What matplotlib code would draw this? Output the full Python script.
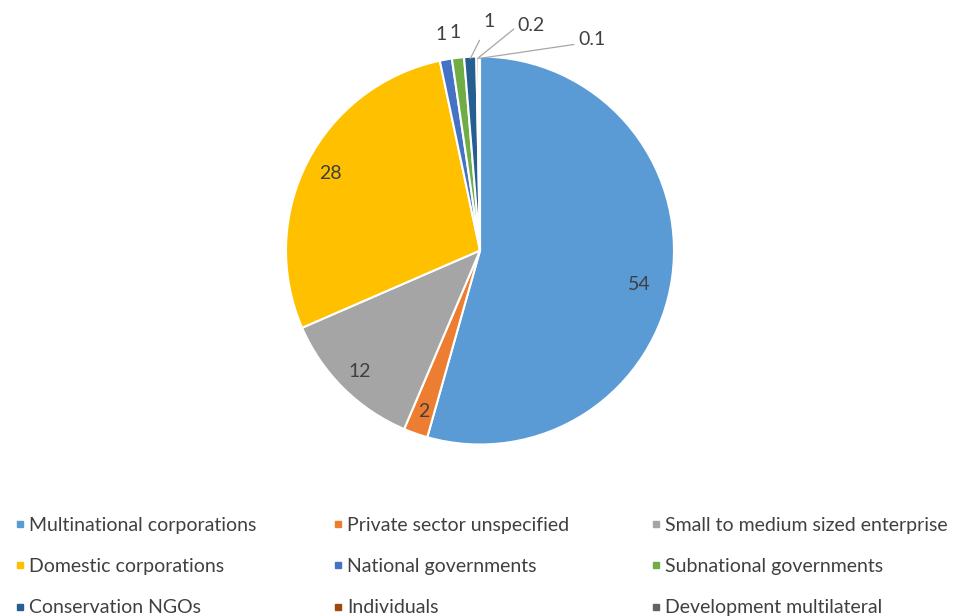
import numpy as np
import matplotlib.pyplot as plt
from matplotlib.lines import Line2D

# funding share by source type
categories = ['Multinational corporations', 'Private sector unspecified',
              'Small to medium sized enterprise', 'Domestic corporations',
              'National governments', 'Subnational governments',
              'Conservation NGOs', 'Individuals', 'Development multilateral']
values = [54, 2, 12, 28, 1, 1, 1, 0.2, 0.1]
value_labels = ['54', '2', '12', '28', '1', '1', '1', '0.2', '0.1']
colors = ['#5B9BD5', '#ED7D31', '#A5A5A5', '#FFC000', '#4472C4',
          '#70AD47', '#255E91', '#9E480E', '#636363']

plt.rcParams['font.family'] = ['Lato', 'DejaVu Sans']
txt_color = '#404040'

W, H = 959, 616
fig = plt.figure(figsize=(W / 100, H / 100), dpi=100)

# pie axes: centre (480, 250) px, radius 194 px
cx, cy, r = 480, 250.5, 194
ax = fig.add_axes([(cx - r) / W, (H - cy - r) / H, 2 * r / W, 2 * r / H])
wedges, _ = ax.pie(values, colors=colors, startangle=90, counterclock=False,
                   wedgeprops=dict(edgecolor='white', linewidth=1.5))
ax.set_xlim(-1, 1)
ax.set_ylim(-1, 1)

# inner labels for the large slices, outer ones for the thin slivers
inner_dist = [0.84, 0.88, 0.88, 0.87]
inner_shift = [-4, 0, 0, 0]   # degrees
outer_pos = {6: (0.046, 1.18), 7: (0.195, 1.16), 8: (0.505, 1.09)}
for i, w in enumerate(wedges):
    mid = np.deg2rad((w.theta1 + w.theta2) / 2)
    if i < 4:
        d = inner_dist[i]
        a = mid + np.deg2rad(inner_shift[i])
        ax.text(d * np.cos(a), d * np.sin(a), value_labels[i],
                ha='center', va='center', fontsize=14, color=txt_color)
    elif i in outer_pos:
        ex, ey = 0.99 * np.cos(mid), 0.99 * np.sin(mid)
        tx, ty = outer_pos[i]
        if i == 6:
            ax.annotate(value_labels[i], xy=(ex, ey), xytext=(tx, ty),
                        ha='center', va='center', fontsize=14, color=txt_color,
                        annotation_clip=False,
                        arrowprops=dict(arrowstyle='-', color='#A6A6A6', lw=0.9,
                                        shrinkA=6, shrinkB=0,
                                        relpos=(0.5, 0.5)))
        else:
            # leader: diagonal from the sliver, short horizontal into the text
            ly = ty - 0.03
            bend = np.degrees(np.arctan2(ly - ey, tx - 0.035 - ex))
            ax.annotate(value_labels[i], xy=(ex, ey), xytext=(tx, ty),
                        ha='left', va='center', fontsize=14, color=txt_color,
                        annotation_clip=False,
                        arrowprops=dict(arrowstyle='-', color='#A6A6A6', lw=0.9,
                                        shrinkA=1, shrinkB=0, relpos=(0, 0.3),
                                        connectionstyle='angle,angleA=0,angleB=%.1f,rad=0'
                                        % bend))
    else:
        d = 1.13
        ax.text(d * np.cos(mid), d * np.sin(mid), value_labels[i],
                ha='center', va='center', fontsize=14, color=txt_color)

# legend laid out in three columns, filled row by row
col_x = [6 / W, 324 / W, 642 / W]
for c in range(3):
    idx = [c, c + 3, c + 6]
    handles = [Line2D([], [], marker='s', linestyle='', markersize=5,
                      markerfacecolor=colors[k], markeredgecolor=colors[k])
               for k in idx]
    fig.legend(handles, [categories[k] for k in idx], loc='upper left',
               bbox_to_anchor=(col_x[c], 1 - 507 / H), frameon=False,
               fontsize=14, labelcolor=txt_color, handlelength=0.4,
               handletextpad=0.3, labelspacing=1.25, borderpad=0)

fig.savefig('out.png', dpi=100, facecolor='white')
